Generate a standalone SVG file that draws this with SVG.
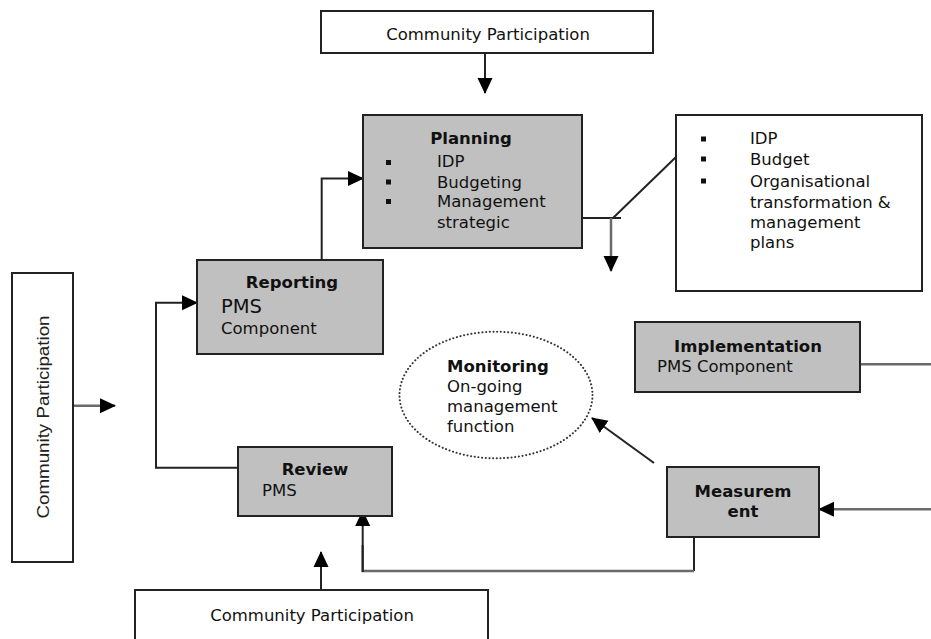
<svg xmlns="http://www.w3.org/2000/svg" width="931" height="639" viewBox="0 0 931 639">
<style>
  .box{fill:#c0c0c0;stroke:#222;stroke-width:2}
  .wbox{fill:#fff;stroke:#222;stroke-width:2}
  .t{font-family:"DejaVu Sans",Verdana,sans-serif;font-size:16.5px;fill:#111}
  .b{font-family:"DejaVu Sans",Verdana,sans-serif;font-size:16.5px;font-weight:bold;fill:#111}
  .c{text-anchor:middle}
  .ln{fill:none;stroke:#222;stroke-width:2}
  .gl{fill:none;stroke:#6a6a6a;stroke-width:2.5}
  .bul{fill:#111}
</style>
<defs>
  <marker id="ah" markerUnits="userSpaceOnUse" viewBox="0 0 16 16" markerWidth="16" markerHeight="16" refX="15" refY="8" orient="auto">
    <path d="M0,0.5 L16,8 L0,15.5 z" fill="#000"/>
  </marker>
</defs>
<rect width="931" height="639" fill="#fff"/>

<g id="connectors">
  <line class="ln" x1="485" y1="53" x2="485" y2="93" marker-end="url(#ah)"/>
  <polyline class="ln" points="321.7,260 321.7,178.5 363,178.5" marker-end="url(#ah)"/>
  <polyline class="ln" points="238,467.7 156,467.7 156,302.7 197,302.7" marker-end="url(#ah)"/>
  <line class="gl" x1="73" y1="405.7" x2="115" y2="405.7" marker-end="url(#ah)"/>
  <line class="ln" x1="582" y1="218" x2="621" y2="218"/>
  <line class="ln" x1="613" y1="218" x2="676" y2="157"/>
  <line class="gl" x1="611" y1="218" x2="611" y2="271" marker-end="url(#ah)"/>
  <line class="gl" x1="860" y1="364.3" x2="931" y2="364.3"/>
  <line class="gl" x1="931" y1="509.3" x2="819" y2="509.3" marker-end="url(#ah)"/>
  <line class="ln" x1="654" y1="463" x2="592" y2="418" marker-end="url(#ah)"/>
  <polyline class="ln" points="694,528 694,571"/>
  <polyline class="gl" points="694,571 362.7,571 362.7,545"/>
  <line class="ln" x1="362.7" y1="572" x2="362.7" y2="511" marker-end="url(#ah)"/>
  <line class="ln" x1="321" y1="590" x2="321" y2="552" marker-end="url(#ah)"/>
</g>

<g id="cp-top">
  <rect class="wbox" x="321" y="11" width="332" height="42"/>
  <text class="t c" x="488" y="40">Community Participation</text>
</g>

<g id="planning">
  <rect class="box" x="363" y="115" width="219" height="133"/>
  <text class="b c" x="471" y="144">Planning</text>
  <rect class="bul" x="386" y="160" width="5" height="5"/>
  <rect class="bul" x="386" y="179.5" width="5" height="5"/>
  <rect class="bul" x="386" y="199" width="5" height="5"/>
  <text class="t" x="437" y="167">IDP</text>
  <text class="t" x="437" y="187.5">Budgeting</text>
  <text class="t" x="437" y="207">Management</text>
  <text class="t" x="437" y="228">strategic</text>
</g>

<g id="plans-list">
  <rect class="wbox" x="676" y="115" width="246" height="176"/>
  <rect class="bul" x="701" y="136.5" width="5" height="5"/>
  <rect class="bul" x="701" y="156.5" width="5" height="5"/>
  <rect class="bul" x="701" y="178.5" width="5" height="5"/>
  <text class="t" x="750" y="144">IDP</text>
  <text class="t" x="750" y="165">Budget</text>
  <text class="t" x="750" y="187">Organisational</text>
  <text class="t" x="750" y="208">transformation &amp;</text>
  <text class="t" x="750" y="228">management</text>
  <text class="t" x="750" y="248">plans</text>
</g>

<g id="reporting">
  <rect class="box" x="197" y="260" width="186" height="94"/>
  <text class="b c" x="292" y="288">Reporting</text>
  <text class="t" x="221" y="313" style="font-size:19.5px">PMS</text>
  <text class="t" x="221" y="334">Component</text>
</g>

<g id="cp-left">
  <rect class="wbox" x="12" y="273" width="61" height="289"/>
  <text x="49" y="417" transform="rotate(-90 49 417)" text-anchor="middle" textLength="203" lengthAdjust="spacingAndGlyphs" style="font-family:'Liberation Sans',Arial,sans-serif;font-size:16px;fill:#222">Community Participation</text>
</g>

<g id="monitoring">
  <ellipse cx="496" cy="395" rx="96.5" ry="63.3" fill="none" stroke="#333" stroke-width="2" stroke-dasharray="0.1 3.6" stroke-linecap="round"/>
  <text class="b" x="447" y="372">Monitoring</text>
  <text class="t" x="447" y="392">On-going</text>
  <text class="t" x="447" y="412">management</text>
  <text class="t" x="447" y="432">function</text>
</g>

<g id="implementation">
  <rect class="box" x="635" y="322" width="225" height="70"/>
  <text class="b c" x="748" y="352">Implementation</text>
  <text class="t" x="657" y="372">PMS Component</text>
</g>

<g id="review">
  <rect class="box" x="238" y="447" width="154" height="69"/>
  <text class="b c" x="315" y="475">Review</text>
  <text class="t" x="262" y="496">PMS</text>
</g>

<g id="measurement">
  <rect class="box" x="667" y="467" width="152" height="70"/>
  <text class="b c" x="743" y="497">Measurem</text>
  <text class="b c" x="743" y="517">ent</text>
</g>

<g id="cp-bottom">
  <rect class="wbox" x="135" y="590" width="353" height="60"/>
  <text class="t c" x="312" y="621">Community Participation</text>
</g>
</svg>
